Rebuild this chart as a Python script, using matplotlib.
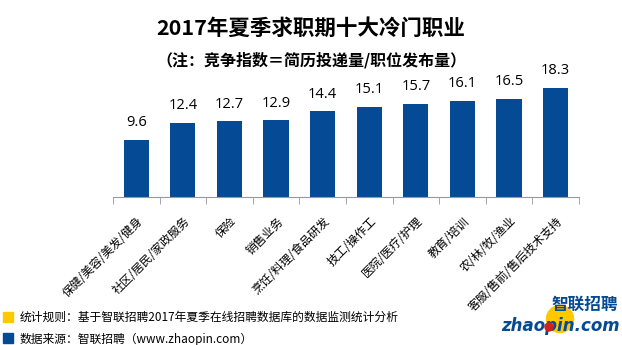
import matplotlib.pyplot as plt
import matplotlib.transforms as mtrans
from matplotlib.patches import Ellipse, Rectangle
import numpy as np

plt.rcParams['font.family'] = ['Noto Sans CJK SC', 'DejaVu Sans']

categories = ['保健/美容/美发/健身', '社区/居民/家政服务', '保险', '销售业务',
              '烹饪/料理/食品研发', '技工/操作工', '医院/医疗/护理', '教育/培训',
              '农/林/牧/渔业', '客服/售前/售后技术支持']
values = [9.6, 12.4, 12.7, 12.9, 14.4, 15.1, 15.7, 16.1, 16.5, 18.3]

title = '2017年夏季求职期十大冷门职业'
subtitle = '（注：竞争指数＝简历投递量/职位发布量）'
note1 = '统计规则：基于智联招聘2017年夏季在线招聘数据库的数据监测统计分析'
note2 = '数据来源：智联招聘（www.zhaopin.com）'

blue = '#044a94'
yellow = '#ffc800'

fig = plt.figure(figsize=(6.22, 3.45), dpi=100)
ax = fig.add_axes([0.1817, 0.429, 0.749, 0.345])

x = np.arange(len(values))
ax.bar(x, values, width=0.54, color=blue)
for xi, v in zip(x, values):
    ax.annotate(f'{v:.1f}', (xi, v), xytext=(0, 7), textcoords='offset points',
                ha='center', va='bottom', fontsize=10.5, family='Open Sans')

ax.set_xlim(-0.5, len(values) - 0.5)
ax.set_ylim(0, 20)
ax.set_yticks([])
for s in ['top', 'right', 'left']:
    ax.spines[s].set_visible(False)
ax.spines['bottom'].set_color('#999999')

# labels under the bars, tick marks between categories
ax.set_xticks(x)
ax.set_xticklabels(categories, rotation=45, ha='right', va='center',
                   rotation_mode='anchor', fontsize=8.5)
ax.tick_params(axis='x', which='major', length=0, pad=16)
ax.set_xticks(np.arange(-0.5, len(values)), minor=True)
ax.tick_params(axis='x', which='minor', length=5, color='#999999')
offset = mtrans.ScaledTranslation(5 / 100, 0, fig.dpi_scale_trans)
for lbl in ax.get_xticklabels():
    lbl.set_transform(lbl.get_transform() + offset)

fig.text(0.5, 1 - 28 / 345, title, ha='center', va='center', fontsize=15.5,
         fontweight='bold')
fig.text(0.5, 1 - 60 / 345, subtitle, ha='center', va='center', fontsize=11.5,
         fontweight='bold')

# bottom notes
fig.add_artist(Rectangle((3 / 622, 1 - 322 / 345), 10 / 622, 10 / 345,
                         transform=fig.transFigure, color=yellow))
fig.add_artist(Rectangle((3 / 622, 2 / 345), 10 / 622, 10 / 345,
                         transform=fig.transFigure, color=blue))
fig.text(20 / 622, 1 - 317 / 345, note1, ha='left', va='center', fontsize=8.5)
fig.text(20 / 622, 1 - 339 / 345, note2, ha='left', va='center', fontsize=8.5)

# logo
fig.add_artist(Ellipse((560 / 622, 1 - 319 / 345), 27 / 622, 27 / 345,
                       transform=fig.transFigure, color=yellow, zorder=0.5))
fig.text(618 / 622, 1 - 305 / 345, '智联招聘', ha='right', va='center', fontsize=12,
         fontweight='bold', color=blue, style='italic')
fig.text(620 / 622, 1 - 326 / 345, 'zhaopin.com', ha='right', va='center', fontsize=12,
         fontweight='bold', color=blue, style='italic', family='DejaVu Sans')
fig.add_artist(Ellipse((549 / 622, 1 - 327 / 345), 8 / 622, 8 / 345,
                       transform=fig.transFigure, color='#d22020', zorder=5))

fig.savefig('out.png', dpi=100)
